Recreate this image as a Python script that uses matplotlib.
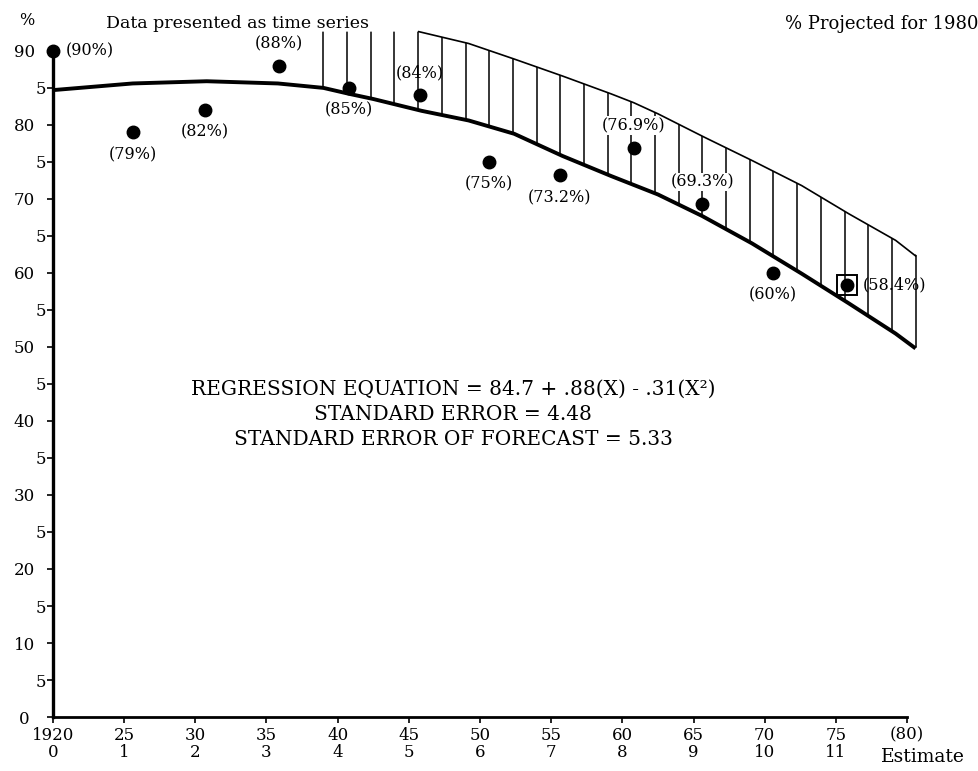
import numpy as np
import matplotlib.pyplot as plt
from matplotlib.patches import Polygon

plt.rcParams['font.family'] = ['DejaVu Serif']

# observed points (year position, percent) and their printed labels
pt_year = [1920.0, 1925.6, 1930.7, 1935.9, 1940.8, 1945.8,
           1950.6, 1955.6, 1960.8, 1965.6, 1970.6, 1975.8]
pt_pct = [90, 79, 82, 88, 85, 84, 75, 73.2, 76.9, 69.3, 60, 58.4]
pt_text = ['(90%)', '(79%)', '(82%)', '(88%)', '(85%)', '(84%)',
           '(75%)', '(73.2%)', '(76.9%)', '(69.3%)', '(60%)', '(58.4%)']
# where each label sits relative to its dot
pt_side = ['right', 'below', 'below', 'above', 'below', 'above',
           'below', 'below', 'above', 'above', 'below', 'right']

# regression curve
curve_x = [1920.0, 1925.6, 1930.8, 1935.8, 1939.0, 1940.8, 1942.5, 1945.9,
           1949.2, 1952.4, 1955.8, 1959.2, 1962.5, 1965.6, 1969.1, 1972.6,
           1975.9, 1979.2, 1980.6]
curve_y = [84.7, 85.6, 85.9, 85.6, 85.0, 84.2, 83.5, 81.9,
           80.6, 78.8, 75.8, 73.1, 70.6, 67.7, 64.0, 59.9,
           55.9, 51.8, 49.8]

# upper limit of the forecast band
band_x = [1945.7, 1949.2, 1952.4, 1955.8, 1959.2, 1960.8, 1962.5, 1965.8,
          1969.1, 1972.6, 1975.9, 1979.2, 1980.6]
band_y = [92.6, 91.0, 88.9, 86.6, 84.2, 83.0, 81.5, 78.3,
          75.2, 71.8, 68.0, 64.4, 62.3]
band_start = 1939.0

x_ticks = [1920, 1925, 1930, 1935, 1940, 1945, 1950, 1955, 1960, 1965, 1970, 1975, 1980]
x_labels = ['1920\n0', '25\n1', '30\n2', '35\n3', '40\n4', '45\n5', '50\n6',
            '55\n7', '60\n8', '65\n9', '70\n10', '75\n11', '(80)']
y_ticks = list(range(0, 91, 5))
y_labels = ['0', '5', '10', '5', '20', '5', '30', '5', '40', '5',
            '50', '5', '60', '5', '70', '5', '80', '5', '90']

fig = plt.figure(figsize=(9.79, 7.71), dpi=100)
ax = fig.add_axes([0.0541, 0.07, 0.8724, 0.912])
ax.set_xlim(1920, 1980)
ax.set_ylim(0, 95)

# hatched band: vertical strokes clipped to the band outline
verts = [(band_start - 0.1, band_y[0])] + list(zip(band_x, band_y))
verts[-1] = (band_x[-1] + 0.15, band_y[-1])
lower = [(x, y) for x, y in zip(curve_x, curve_y) if x >= band_start]
lower[-1] = (lower[-1][0] + 0.15, lower[-1][1])
lower[0] = (band_start - 0.1, lower[0][1])
verts += lower[::-1]
clip = Polygon(verts, closed=True, facecolor='none', edgecolor='none')
ax.add_patch(clip)
clip.set_clip_on(False)
hatch_x = np.linspace(band_start, band_x[-1], 26)
lines = ax.vlines(hatch_x, 0, 100, colors='black', linewidth=1.1)
lines.set_clip_path(clip)
lines.set_clip_box(None)
ax.plot(band_x, band_y, color='black', linewidth=1.2, clip_on=False, zorder=7)

ax.plot(curve_x, curve_y, color='black', linewidth=2.8,
        solid_capstyle='butt', clip_on=False, zorder=7)

ax.plot(pt_year, pt_pct, 'o', color='black', markersize=9, clip_on=False, zorder=8)
ax.plot(pt_year[-1], pt_pct[-1], 's', markersize=15, markerfacecolor='none',
        markeredgecolor='black', markeredgewidth=1.4, zorder=8)

offsets = {'right': (9, 0, 'left', 'center'),
           'below': (0, -16, 'center', 'center'),
           'above': (0, 16, 'center', 'center')}
for x, y, t, s in zip(pt_year, pt_pct, pt_text, pt_side):
    dx, dy, ha, va = offsets[s]
    if t == '(58.4%)':
        dx = 11
    box = None
    # labels sitting inside the hatching get a white patch behind them
    if t in ('(76.9%)', '(69.3%)'):
        box = dict(facecolor='white', edgecolor='none', pad=0.5)
    ax.annotate(t, (x, y), xytext=(dx, dy), textcoords='offset points',
                ha=ha, va=va, fontsize=11.5, bbox=box, zorder=6)

ax.text(1948.1, 40.9, 'REGRESSION EQUATION = 84.7 + .88(X) - .31(X\u00b2)\n'
        'STANDARD ERROR = 4.48\nSTANDARD ERROR OF FORECAST = 5.33',
        ha='center', va='center', fontsize=14.5, linespacing=1.4)

for s in ['top', 'right']:
    ax.spines[s].set_visible(False)
ax.spines['left'].set_bounds(0, 90)
ax.spines['left'].set_linewidth(2.4)
ax.spines['bottom'].set_linewidth(2.0)
ax.set_xticks(x_ticks)
ax.set_xticklabels(x_labels, fontsize=12, linespacing=1.05)
ax.set_yticks(y_ticks)
ax.set_yticklabels(y_labels, fontsize=12)
ax.tick_params(direction='out', length=4, width=1.2)
ax.tick_params(axis='x', pad=3)
# the tens sit further from the axis than the fives
for tick, lab in zip(ax.yaxis.get_major_ticks(), y_labels):
    if lab == '0':
        tick.set_pad(13)
    elif lab == '5':
        tick.set_pad(1)
    else:
        tick.set_pad(9)

ax.annotate('Estimate', (1980, 0), xytext=(-19, -29), textcoords='offset points',
            ha='left', va='center', fontsize=13.5)

fig.text(0.02, 0.985, '%', ha='left', va='top', fontsize=11.5)
fig.text(0.243, 0.98, 'Data presented as time series', ha='center', va='top', fontsize=12.5)
fig.text(0.999, 0.98, '% Projected for 1980', ha='right', va='top', fontsize=13)

fig.savefig('out.png', dpi=100)
